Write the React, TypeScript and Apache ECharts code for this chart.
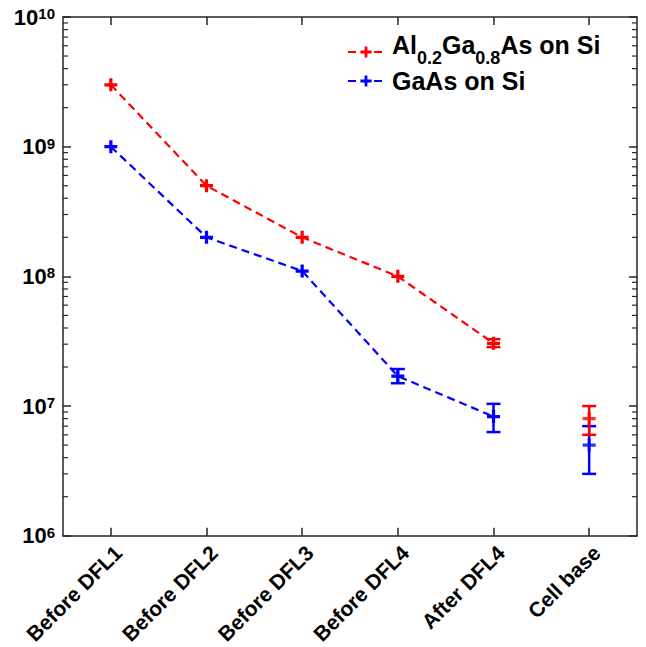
import React, { useEffect, useRef } from 'react';
import * as echarts from 'echarts';

const categories = ['Before DFL1', 'Before DFL2', 'Before DFL3', 'Before DFL4', 'After DFL4', 'Cell base'];
const alganName = 'Al0.2Ga0.8As on Si';
const gaasName = 'GaAs on Si';
const alganValues = [3e9, 5e8, 2e8, 1e8, 3.05e7];
const gaasValues = [1e9, 2e8, 1.1e8, 1.7e7, 8.3e6];
const alganCellBase = [[5, 8e6]];
const gaasCellBase = [[5, 5e6]];
// [categoryIndex, low, high]
const alganErrors = [[4, 2.85e7, 3.28e7], [5, 6e6, 1e7]];
const gaasErrors = [[3, 1.5e7, 1.93e7], [4, 6.3e6, 1.04e7], [5, 3e6, 7e6]];
const minorMantissas = [2, 3, 4, 5, 6, 7, 8, 9];
const minorDecades = [6, 7, 8, 9];

const RED = '#ff0000';
const BLUE = '#0000ff';
const AXIS = '#262626';
const FONT = '"Liberation Sans", Arial, Helvetica, sans-serif';
const PLUS = 'path://M4.5,0h3v4.5h4.5v3h-4.5v4.5h-3v-4.5h-4.5v-3h4.5z';

const minorTicks: number[][] = [];
minorDecades.forEach((d) => minorMantissas.forEach((m) => minorTicks.push([0, m * Math.pow(10, d)])));

function errorSeries(data: number[][], color: string) {
  return {
    type: 'custom',
    data,
    encode: { x: 0, y: [1, 2] },
    silent: true,
    z: 3,
    renderItem: (params: any, api: any) => {
      const x = api.value(0);
      const lo = api.coord([x, api.value(1)]);
      const hi = api.coord([x, api.value(2)]);
      const half = 7;
      const st = { stroke: color, lineWidth: 2.5 };
      return {
        type: 'group',
        children: [
          { type: 'line', shape: { x1: lo[0], y1: lo[1], x2: hi[0], y2: hi[1] }, style: st },
          { type: 'line', shape: { x1: lo[0] - half, y1: lo[1], x2: lo[0] + half, y2: lo[1] }, style: st },
          { type: 'line', shape: { x1: hi[0] - half, y1: hi[1], x2: hi[0] + half, y2: hi[1] }, style: st },
        ],
      };
    },
  };
}

export default function App() {
  const ref = useRef<HTMLDivElement>(null);
  useEffect(() => {
    if (!ref.current) return;
    const chart = echarts.init(ref.current, undefined, { renderer: 'svg' });
    const logAxisBase = {
      type: 'log',
      logBase: 10,
      min: 1e6,
      max: 1e10,
      interval: 1,
      splitLine: { show: false },
      axisLine: { show: true, lineStyle: { color: AXIS, width: 1.5 } },
      axisTick: { show: true, inside: true, length: 8, lineStyle: { color: AXIS, width: 1.5 } },
    };
    const catAxisBase = {
      type: 'category',
      data: categories,
      boundaryGap: true,
      splitLine: { show: false },
      axisLine: { show: true, lineStyle: { color: AXIS, width: 1.5 } },
      axisTick: { show: true, inside: true, alignWithLabel: true, length: 8, lineStyle: { color: AXIS, width: 1.5 } },
    };
    chart.setOption({
      animation: false,
      backgroundColor: '#ffffff',
      textStyle: { fontFamily: FONT },
      grid: { left: 63, right: 9, top: 17, bottom: 111, containLabel: false },
      legend: {
        data: [alganName, gaasName],
        orient: 'vertical',
        left: 347,
        top: 32,
        padding: 0,
        itemWidth: 36,
        itemHeight: 14,
        itemGap: 1,
        selectedMode: false,
        formatter: (name: string) =>
          name === alganName
            ? '{n|Al}{s|0.2}{n|Ga}{s|0.8}{n|As on Si}'
            : '{g|GaAs on Si}',
        textStyle: {
          color: '#000',
          padding: [0, 0, 0, 3],
          rich: {
            n: { fontSize: 25, fontWeight: 'bold', fontFamily: FONT, height: 26, lineHeight: 26, verticalAlign: 'top', color: '#000' },
            s: { fontSize: 18, fontWeight: 'bold', fontFamily: FONT, height: 18, lineHeight: 40, padding: [17, 0, 0, 0], verticalAlign: 'top', color: '#000' },
            g: { fontSize: 25, fontWeight: 'bold', fontFamily: FONT, height: 26, lineHeight: 26, color: '#000' },
          },
        },
      },
      xAxis: [
        {
          ...catAxisBase,
          position: 'bottom',
          axisLabel: {
            interval: 0,
            rotate: 45,
            margin: 6,
            verticalAlign: 'top',
            color: '#000',
            fontSize: 21,
            fontWeight: 'bold',
            fontFamily: FONT,
          },
        },
        { ...catAxisBase, position: 'top', axisLabel: { show: false } },
      ],
      yAxis: [
        {
          ...logAxisBase,
          position: 'left',
          axisLabel: {
            margin: 8,
            formatter: (v: number) => `{b|10}{s|${Math.round(Math.log10(v))}}`,
            rich: {
              b: { fontSize: 22, fontWeight: 'bold', fontFamily: FONT, lineHeight: 22, verticalAlign: 'bottom', color: '#000' },
              s: { fontSize: 15, fontWeight: 'bold', fontFamily: FONT, lineHeight: 15, verticalAlign: 'top', color: '#000' },
            },
          },
        },
        { ...logAxisBase, position: 'right', axisLabel: { show: false } },
      ],
      series: [
        {
          type: 'custom',
          data: minorTicks,
          encode: { x: 0, y: 1 },
          silent: true,
          clip: false,
          z: 1,
          renderItem: (params: any, api: any) => {
            const y = api.coord([0, api.value(1)])[1];
            const cs = params.coordSys;
            const st = { stroke: AXIS, lineWidth: 1.2 };
            return {
              type: 'group',
              children: [
                { type: 'line', shape: { x1: cs.x, y1: y, x2: cs.x + 5, y2: y }, style: st },
                { type: 'line', shape: { x1: cs.x + cs.width - 5, y1: y, x2: cs.x + cs.width, y2: y }, style: st },
              ],
            };
          },
        },
        errorSeries(gaasErrors, BLUE),
        errorSeries(alganErrors, RED),
        {
          name: alganName,
          type: 'line',
          data: alganValues,
          color: RED,
          symbol: PLUS,
          symbolSize: 13,
          showAllSymbol: true,
          lineStyle: { color: RED, width: 2.2, type: [8, 5] },
          itemStyle: { color: RED },
          z: 4,
        },
        {
          name: gaasName,
          type: 'line',
          data: gaasValues,
          color: BLUE,
          symbol: PLUS,
          symbolSize: 13,
          showAllSymbol: true,
          lineStyle: { color: BLUE, width: 2.2, type: [8, 5] },
          itemStyle: { color: BLUE },
          z: 4,
        },
        {
          name: 'Al cell base',
          type: 'scatter',
          data: alganCellBase,
          symbol: PLUS,
          symbolSize: 13,
          itemStyle: { color: RED },
          z: 5,
        },
        {
          name: 'GaAs cell base',
          type: 'scatter',
          data: gaasCellBase,
          symbol: PLUS,
          symbolSize: 13,
          itemStyle: { color: BLUE },
          z: 5,
        },
      ],
    });
    return () => chart.dispose();
  }, []);
  return <div ref={ref} style={{ position: 'fixed', left: 0, top: 0, width: 646, height: 647, overflow: 'hidden' }} />;
}
